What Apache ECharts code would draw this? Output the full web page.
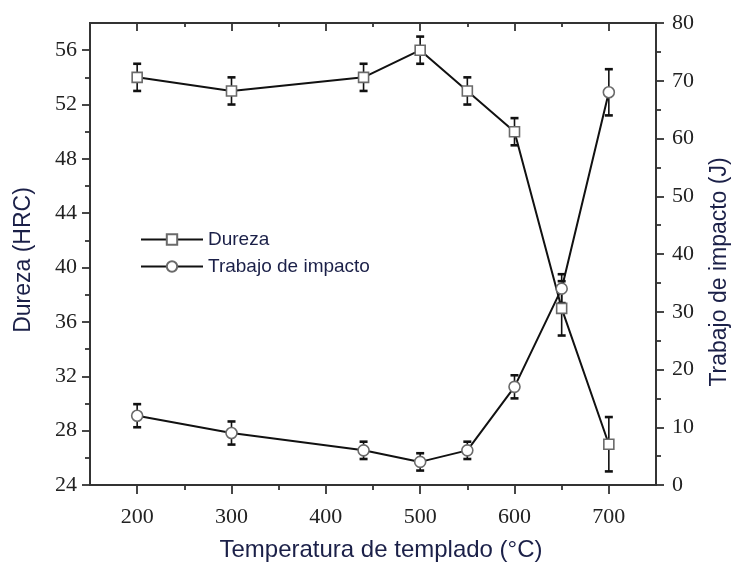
<!DOCTYPE html>
<html lang="es">

<head>
    <meta charset="UTF-8">
    <title>Dureza y trabajo de impacto</title>
    <style>
        html, body { margin: 0; padding: 0; background: #fff; }
        #main { width: 731px; height: 566px; }
    </style>
</head>

<body>
    <div id="main"></div>
</body>

</html>
<script src="https://cdn.jsdelivr.net/npm/echarts@6/dist/echarts.min.js"></script>
<script>
    // datos
    var temperaturas = [200, 300, 440, 500, 550, 600, 650, 700];
    var dureza = [54, 53, 54, 56, 53, 50, 37, 27];
    var durezaErr = [1, 1, 1, 1, 1, 1, 2, 2];
    var trabajo = [12, 9, 6, 4, 6, 17, 34, 68];
    var trabajoErr = [2, 2, 1.5, 1.5, 1.5, 2, 2.5, 4];

    // marcas de los ejes
    var xTicks = [200, 300, 400, 500, 600, 700];
    var xMinorTicks = [250, 350, 450, 550, 650];
    var durezaTicks = [24, 28, 32, 36, 40, 44, 48, 52, 56];
    var durezaMinorTicks = [26, 30, 34, 38, 42, 46, 50, 54];
    var trabajoTicks = [0, 10, 20, 30, 40, 50, 60, 70, 80];
    var trabajoMinorTicks = [5, 15, 25, 35, 45, 55, 65, 75];

    var negro = '#333';
    var azul = '#1b2048';
    var serif = 'Liberation Serif';
    var sans = 'Liberation Sans';

    var puntos = function (ys) {
        return temperaturas.map(function (t, i) { return [t, ys[i]]; });
    };
    var barras = function (ys, errs) {
        return temperaturas.map(function (t, i) { return [t, ys[i] - errs[i], ys[i] + errs[i]]; });
    };

    // barra de error: línea vertical con remates
    var dibujarError = function (params, api) {
        var arriba = api.coord([api.value(0), api.value(2)]);
        var abajo = api.coord([api.value(0), api.value(1)]);
        var w = 4;
        var est = { stroke: '#111', lineWidth: 1.6 };
        var cap = { stroke: '#111', lineWidth: 2.6 };
        return {
            type: 'group',
            children: [
                { type: 'line', shape: { x1: arriba[0], y1: arriba[1], x2: abajo[0], y2: abajo[1] }, style: est },
                { type: 'line', shape: { x1: arriba[0] - w, y1: arriba[1], x2: arriba[0] + w, y2: arriba[1] }, style: cap },
                { type: 'line', shape: { x1: abajo[0] - w, y1: abajo[1], x2: abajo[0] + w, y2: abajo[1] }, style: cap }
            ]
        };
    };

    var ejeX = function (pos, customTicks, len, labels, inside) {
        return {
            type: 'value', position: pos, min: 150, max: 750,
            axisLine: { show: true, onZero: false, lineStyle: { color: negro, width: 1.8 } },
            axisTick: { show: true, inside: inside, length: len, customValues: customTicks, lineStyle: { color: negro, width: 1.8 } },
            axisLabel: labels ? {
                show: true, customValues: xTicks, margin: 21,
                color: '#222', fontFamily: serif, fontSize: 22
            } : { show: false },
            splitLine: { show: false }
        };
    };

    var ejeY = function (pos, min, max, customTicks, len, labels, margin, extra) {
        var eje = {
            type: 'value', position: pos, min: min, max: max,
            axisLine: { show: true, onZero: false, lineStyle: { color: negro, width: 1.8 } },
            axisTick: { show: true, inside: false, length: len, customValues: customTicks, lineStyle: { color: negro, width: 1.8 } },
            axisLabel: labels ? {
                show: true, customValues: labels, margin: margin,
                color: '#222', fontFamily: serif, fontSize: 22
            } : { show: false },
            splitLine: { show: false }
        };
        return Object.assign(eje, extra || {});
    };

    var option = {
        animation: false,
        backgroundColor: '#fff',
        grid: { left: 90, right: 75, top: 23, bottom: 81, outerBoundsMode: 'none', containLabel: false },
        legend: {
            orient: 'vertical', left: 135, top: 225,
            itemWidth: 62, itemHeight: 13, itemGap: 8,
            textStyle: { fontFamily: sans, fontSize: 19, color: azul },
            data: ['Dureza', 'Trabajo de impacto']
        },
        xAxis: [
            Object.assign(ejeX('bottom', xTicks, 9, true, false), {
                name: 'Temperatura de templado (°C)', nameLocation: 'middle', nameGap: 53,
                nameTextStyle: { fontFamily: sans, fontSize: 24, color: azul, padding: [0, 0, 0, 16] }
            }),
            ejeX('bottom', xMinorTicks, 5, false, false),
            ejeX('top', xTicks, 8, false, true),
            ejeX('top', xMinorTicks, 4, false, true)
        ],
        yAxis: [
            ejeY('left', 24, 58, durezaTicks, 8, durezaTicks, 13, {
                name: 'Dureza (HRC)', nameLocation: 'middle', nameGap: 55,
                nameTextStyle: { fontFamily: sans, fontSize: 23, color: azul, padding: [0, 12, 0, 0] }
            }),
            ejeY('left', 24, 58, durezaMinorTicks, 5, null, 0),
            ejeY('right', 0, 80, trabajoTicks, 8, trabajoTicks, 16, {
                name: 'Trabajo de impacto (J)', nameLocation: 'middle', nameGap: 52,
                nameTextStyle: { fontFamily: sans, fontSize: 23, color: azul, padding: [0, 36, 0, 0] }
            }),
            ejeY('right', 0, 80, trabajoMinorTicks, 5, null, 0)
        ],
        series: [
            {
                name: 'errDureza', type: 'custom', xAxisIndex: 0, yAxisIndex: 0,
                renderItem: dibujarError, encode: { x: 0, y: [1, 2] },
                data: barras(dureza, durezaErr), z: 2, silent: true
            },
            {
                name: 'errTrabajo', type: 'custom', xAxisIndex: 0, yAxisIndex: 2,
                renderItem: dibujarError, encode: { x: 0, y: [1, 2] },
                data: barras(trabajo, trabajoErr), z: 2, silent: true
            },
            {
                name: 'Dureza', type: 'line', xAxisIndex: 0, yAxisIndex: 0,
                data: puntos(dureza), symbol: 'rect', symbolSize: 10, showAllSymbol: true,
                lineStyle: { color: '#111', width: 2 },
                itemStyle: { color: '#fff', borderColor: '#6a6a6a', borderWidth: 1.6 },
                z: 3
            },
            {
                name: 'Trabajo de impacto', type: 'line', xAxisIndex: 0, yAxisIndex: 2,
                data: puntos(trabajo), symbol: 'circle', symbolSize: 11, showAllSymbol: true,
                lineStyle: { color: '#111', width: 2 },
                itemStyle: { color: '#fff', borderColor: '#6a6a6a', borderWidth: 1.6 },
                z: 3
            }
        ]
    };

    var mainChart = echarts.init(document.getElementById('main'));
    mainChart.setOption(option);
</script>
